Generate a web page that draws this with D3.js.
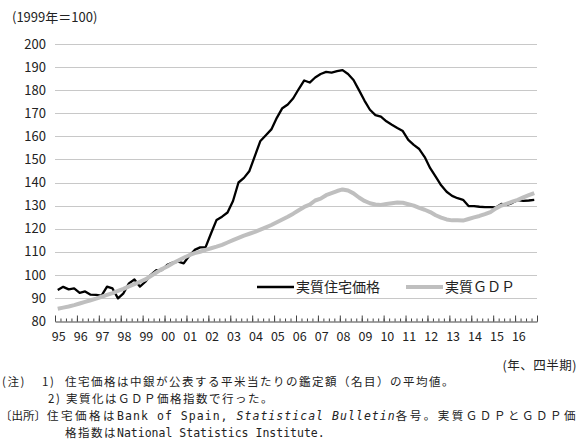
<!DOCTYPE html>
<html>
<head>
<meta charset="utf-8">
<script src="https://cdn.jsdelivr.net/npm/d3@7"></script>
<style>
  body { margin: 0; background: #fff; }
  svg { display: block; font-family: "Noto Sans CJK JP", sans-serif; }
</style>
</head>
<body>
<div id="chart"></div>
<script>
// Quarterly values, 1995Q1 .. 2016Q4 (1999 = 100)
const years = ['95', '96', '97', '98', '99', '00', '01', '02', '03', '04', '05',
  '06', '07', '08', '09', '10', '11', '12', '13', '14', '15', '16']

const housePrice = [
  93.4, 94.8, 93.7, 94.1, 92.2, 92.8, 91.4, 91.3, 91.0, 94.9, 94.1, 89.8,
  92.0, 96.3, 98.0, 94.9, 97.0, 100.0, 102.0, 102.0, 104.3, 105.3, 105.7, 105.0,
  108.2, 110.8, 111.9, 112.0, 118.0, 123.8, 125.2, 127.0, 132.0, 140.0, 142.0, 145.0,
  151.5, 158.0, 160.5, 163.0, 168.0, 172.2, 173.8, 176.5, 180.5, 184.2, 183.3, 185.5,
  187.0, 187.9, 187.6, 188.2, 188.7, 187.0, 184.4, 180.0, 175.5, 171.5, 169.2, 168.5,
  166.5, 165.0, 163.6, 162.3, 158.5, 156.3, 154.5, 151.0, 146.2, 142.5, 138.8, 136.0,
  134.2, 133.2, 132.5, 129.8, 129.8, 129.5, 129.3, 129.3, 129.2, 130.7, 130.3, 131.2,
  132.4, 132.0, 132.2, 132.5
]

const realGdp = [
  85.3, 85.8, 86.3, 86.9, 87.6, 88.3, 89.0, 89.7, 90.5, 91.3, 92.1, 93.0,
  93.9, 95.0, 96.0, 97.0, 98.0, 99.5, 101.0, 102.5, 103.6, 105.0, 106.2, 107.4,
  108.5, 109.4, 110.0, 110.8, 111.5, 112.2, 113.0, 114.0, 115.0, 116.0, 117.0, 117.8,
  118.6, 119.6, 120.6, 121.6, 122.8, 124.0, 125.2, 126.5, 128.0, 129.4, 130.4, 132.2,
  133.0, 134.5, 135.4, 136.3, 137.0, 136.5, 135.3, 133.5, 132.0, 131.0, 130.5, 130.3,
  130.7, 131.0, 131.3, 131.2, 130.6, 130.0, 129.0, 128.2, 127.2, 125.8, 124.8, 124.0,
  123.6, 123.6, 123.5, 124.2, 124.9, 125.5, 126.3, 127.2, 128.8, 130.0, 130.8, 131.7,
  132.5, 133.6, 134.5, 135.4
]

const yTicks = [80, 90, 100, 110, 120, 130, 140, 150, 160, 170, 180, 190, 200]

const seriesNames = ['実質住宅価格', '実質ＧＤＰ']

const width = 580
const height = 445
const margin = {left: 55, right: 43, top: 44, bottom: 124}
const plotW = width - margin.left - margin.right
const plotH = height - margin.top - margin.bottom

const nQ = housePrice.length

const svg = d3.select('#chart')
  .append('svg')
  .attr('width', width)
  .attr('height', height)

// Scales
const x = d3.scaleLinear().domain([0, nQ]).range([margin.left, margin.left + plotW])
const y = d3.scaleLinear().domain([80, 200]).range([margin.top + plotH, margin.top])

// Gridlines
svg.append('g')
  .selectAll('line')
  .data(yTicks.filter(d => d > 80))
  .join('line')
  .attr('x1', margin.left)
  .attr('x2', margin.left + plotW)
  .attr('y1', d => Math.round(y(d)) + 0.5)
  .attr('y2', d => Math.round(y(d)) + 0.5)
  .style('stroke', '#c8c8c8')
  .style('stroke-width', 1)

// Left axis labels
const lAxis = svg.append('g')
  .attr('transform', `translate(${margin.left - 9},0)`)
  .call(d3.axisLeft(y).tickValues(yTicks).tickSize(0).tickPadding(0))
lAxis.select('.domain').remove()
lAxis.selectAll('text')
  .style('font-family', '"Noto Sans CJK JP", sans-serif')
  .style('font-size', '13px')
  .style('fill', '#222')

// Bottom axis: minor ticks per quarter, taller ticks per year
const axisY = Math.round(y(80)) + 0.5
const bMinor = svg.append('g')
  .attr('transform', `translate(0,${axisY})`)
  .call(d3.axisBottom(x).tickValues(d3.range(0, nQ + 1)).tickSizeInner(-3).tickSizeOuter(0).tickFormat(''))
bMinor.select('.domain').style('stroke', '#444')
bMinor.selectAll('.tick line').style('stroke', '#444')

const bMajor = svg.append('g')
  .attr('transform', `translate(0,${axisY})`)
  .call(d3.axisBottom(x).tickValues(d3.range(0, nQ + 1, 4)).tickSizeInner(-6).tickSizeOuter(0).tickFormat(''))
bMajor.select('.domain').remove()
bMajor.selectAll('.tick line').style('stroke', '#444')

// Year labels (placed at the first quarter of each year)
svg.append('g')
  .selectAll('text')
  .data(years)
  .join('text')
  .attr('x', (d, i) => x(i * 4 + 0.5) + 1)
  .attr('y', axisY + 19)
  .attr('text-anchor', 'middle')
  .style('font-size', '12.5px')
  .style('fill', '#222')
  .text(d => d)

// Lines
const line = d3.line()
  .x((d, i) => x(i + 0.5))
  .y(d => y(d))

svg.append('path')
  .datum(housePrice)
  .attr('d', line)
  .style('fill', 'none')
  .style('stroke', '#000')
  .style('stroke-width', 2.3)
  .style('stroke-linejoin', 'round')

svg.append('path')
  .datum(realGdp)
  .attr('d', line)
  .style('fill', 'none')
  .style('stroke', '#bfbfbf')
  .style('stroke-width', 4)
  .style('stroke-linejoin', 'round')

// Legend
const legendY = 287
const legend = [
  {name: seriesNames[0], x: 257, color: '#000', sw: 2.3},
  {name: seriesNames[1], x: 406, color: '#bfbfbf', sw: 4}
]
legend.forEach(l => {
  svg.append('line')
    .attr('x1', l.x).attr('x2', l.x + 37)
    .attr('y1', legendY).attr('y2', legendY)
    .style('stroke', l.color)
    .style('stroke-width', l.sw)
  svg.append('text')
    .attr('x', l.x + 39)
    .attr('y', legendY + 5)
    .style('font-size', '14px')
    .style('fill', '#222')
    .text(l.name)
})

// Axis title
svg.append('text')
  .attr('x', 12)
  .attr('y', 22)
  .style('font-size', '13px')
  .style('fill', '#222')
  .text('(1999年＝100)')

// Notes
const notes = svg.append('g')
  .style('font-size', '11.5px')
  .style('letter-spacing', '1.5px')
  .style('fill', '#222')

const mono = sel => sel
  .style('font-family', '"DejaVu Sans Mono", monospace')
  .style('font-size', '11.5px')
  .style('letter-spacing', '0px')

notes.append('text')
  .attr('x', 577).attr('y', 370)
  .attr('text-anchor', 'end')
  .style('letter-spacing', '0.5px')
  .style('font-size', '12.5px')
  .text('(年、四半期)')

notes.append('text').attr('x', 2).attr('y', 386).text('(注)')
notes.append('text').attr('x', 42).attr('y', 386).text('1)')
notes.append('text').attr('x', 65).attr('y', 386).text('住宅価格は中銀が公表する平米当たりの鑑定額（名目）の平均値。')

notes.append('text').attr('x', 48).attr('y', 403).text('2)')
notes.append('text').attr('x', 66).attr('y', 403).text('実質化はＧＤＰ価格指数で行った。')

notes.append('text').attr('x', 0).attr('y', 420).style('letter-spacing', '0px').text('〔出所〕')

// justified line, as in the source document
const src = notes.append('text')
  .attr('x', 47).attr('y', 420)
  .attr('textLength', 530)
  .attr('lengthAdjust', 'spacing')
src.append('tspan').text('住宅価格は')
src.append('tspan').call(mono).text('Bank of Spain, ')
src.append('tspan').call(mono).style('font-style', 'italic').text('Statistical Bulletin')
src.append('tspan').text('各号。実質ＧＤＰとＧＤＰ価')

const src2 = notes.append('text').attr('x', 65).attr('y', 437)
src2.append('tspan').text('格指数は')
src2.append('tspan').call(mono).text('National Statistics Institute.')
</script>
</body>
</html>
